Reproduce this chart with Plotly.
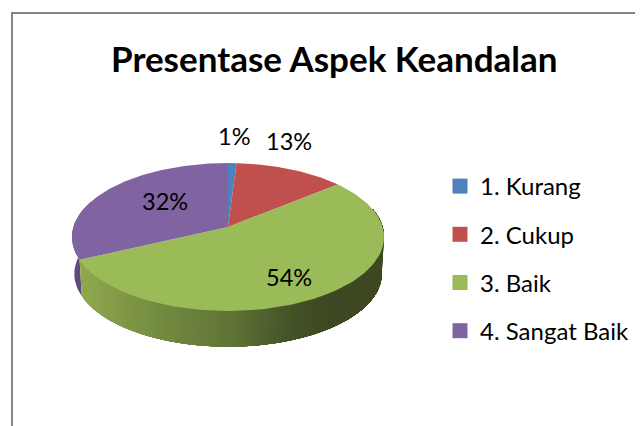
import numpy as np
import plotly.graph_objects as go

categories = ["1. Kurang", "2. Cukup", "3. Baik", "4. Sangat Baik"]
values = [1, 13, 54, 32]
colors = ["#4F81BD", "#C0504D", "#9BBB59", "#8064A2"]
side_dark = {"#8064A2": "#5F4A7E"}

W, H = 643, 426
PAGE = 8  # browser's body margin
CX, CY = 228.0, 227.0
A, B, K = 72.6, 154.6, 0.135
DEPTH, SCALE = 37.0, 0.985


def rim(theta, lower=False):
    u, v = np.sin(theta), np.cos(theta)
    d = 1 + K * v
    s = SCALE if lower else 1.0
    return CX + s * B * u / d, CY + (DEPTH if lower else 0.0) - s * A * v / d


def grad(x):
    xs = [75, 150, 228, 290, 330, 390]
    r = [146, 118, 96, 68, 62, 62]
    g = [170, 142, 116, 82, 72, 72]
    b = [78, 66, 54, 40, 35, 35]
    return "rgb(%d,%d,%d)" % (np.interp(x, xs, r), np.interp(x, xs, g), np.interp(x, xs, b))


fracs = np.array(values, float) / sum(values)
edges = np.concatenate([[0], np.cumsum(fracs)]) * 2 * np.pi

fig = go.Figure()

# Outer side: purple left stub, then green wall as overlapping gradient bands
t = np.linspace(edges[3], 1.62 * np.pi, 20)
xt, yt = rim(t)
xb, yb = rim(t[::-1], True)
fig.add_trace(go.Scatter(x=np.r_[xt, xb], y=np.r_[yt, yb], mode="lines", fill="toself",
                         fillcolor=side_dark[colors[3]], line=dict(width=0), showlegend=False, hoverinfo="skip"))
steps = np.linspace(edges[3], 0.42 * np.pi, 90)
for a0 in steps[:-1]:
    t = np.linspace(a0, 0.42 * np.pi, 60)
    xt, yt = rim(t)
    xb, yb = rim(t[::-1], True)
    c = grad(rim(a0)[0])
    fig.add_trace(go.Scatter(x=np.r_[xt, xb], y=np.r_[yt, yb], mode="lines", fill="toself", fillcolor=c,
                             line=dict(width=0), showlegend=False, hoverinfo="skip"))

# Top faces
for i in range(len(values)):
    t = np.linspace(edges[i], edges[i + 1], 100)
    xt, yt = rim(t)
    fig.add_trace(go.Scatter(x=np.r_[CX, xt, CX], y=np.r_[CY, yt, CY], mode="lines", fill="toself",
                             fillcolor=colors[i], line=dict(width=0), showlegend=False, hoverinfo="skip"))

# Legend entries
for i, c in enumerate(categories):
    fig.add_trace(go.Scatter(x=[None], y=[None], mode="markers", name=c, legendgroup=c,
                             marker=dict(symbol="square", size=15, color=colors[i])))

label_pos = [(234, 136), (289, 141), (289, 277), (165, 201)]
annotations = [dict(x=x, y=y, xref="x", yref="y", text=f"{v}%", showarrow=False,
                    font=dict(family="Lato", size=23.5, color="#000000"))
               for (x, y), v in zip(label_pos, values)]
annotations.append(dict(x=334, y=58, xref="x", yref="y", text="<b>Presentase Aspek Keandalan</b>", showarrow=False,
                        font=dict(family="Lato", size=35, color="#000000")))

pw, ph = W - PAGE, H - PAGE
fig.update_layout(
    width=pw, height=ph, autosize=False,
    margin=dict(l=0, r=0, t=0, b=0),
    paper_bgcolor="white", plot_bgcolor="white",
    xaxis=dict(range=[PAGE, W], visible=False, fixedrange=True),
    yaxis=dict(range=[H, PAGE], visible=False, fixedrange=True),
    legend=dict(x=(440 - PAGE) / pw, y=1 - (164 - PAGE) / ph, xanchor="left", yanchor="top", traceorder="grouped",
                tracegroupgap=14, font=dict(family="Lato", size=24, color="#000000"),
                itemwidth=30, bgcolor="rgba(0,0,0,0)"),
    annotations=annotations,
    shapes=[dict(type="rect", xref="x", yref="y", x0=12, y0=13, x1=680, y1=480,
                 line=dict(color="#868686", width=2))],
)
fig.write_html("out.html")
